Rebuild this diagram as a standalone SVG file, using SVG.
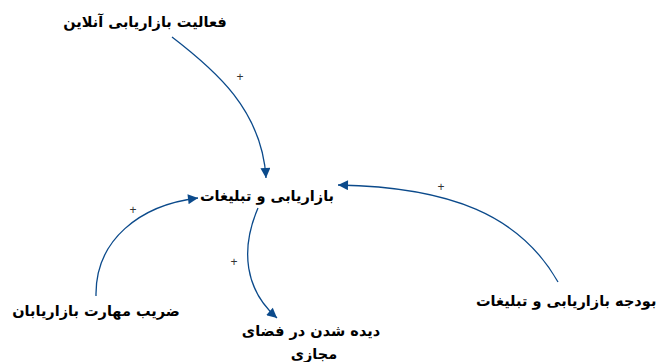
<svg xmlns="http://www.w3.org/2000/svg" width="660" height="362" viewBox="0 0 660 362">
<style>
.lbl{font-family:"DejaVu Sans","Noto Sans",sans-serif;font-weight:bold;font-size:14.5px;fill:#000}
.pl{font-family:"Liberation Sans",sans-serif;font-size:12px;fill:#333}
.cn{fill:none;stroke:#0b4a8b;stroke-width:1.3}
</style>
<defs>
<marker id="ah" viewBox="0 0 10 10" refX="10" refY="5" markerWidth="12" markerHeight="10" markerUnits="userSpaceOnUse" orient="auto">
<path d="M0,0 L10,5 L0,10 z" fill="#0b4a8b"/>
</marker>
</defs>
<rect width="660" height="362" fill="#fff"/>
<g id="connectors">
<path class="cn" d="M172,37 C215,70 262,110 266,178" marker-end="url(#ah)"/>
<path class="cn" d="M558,282 C520,215 450,187 338,185" marker-end="url(#ah)"/>
<path class="cn" d="M96,296 C95,240 140,205 198,198" marker-end="url(#ah)"/>
<path class="cn" d="M258,208 C240,250 245,290 277,318" marker-end="url(#ah)"/>
<text class="pl" x="240" y="81" text-anchor="middle">+</text>
<text class="pl" x="441" y="191" text-anchor="middle">+</text>
<text class="pl" x="133" y="214" text-anchor="middle">+</text>
<text class="pl" x="234" y="266" text-anchor="middle">+</text>
</g>
<g id="n1"><text class="lbl" x="145" y="27" text-anchor="middle">فعالیت بازاریابی آنلاین</text></g>
<g id="n2"><text class="lbl" x="267" y="201" text-anchor="middle">بازاریابی و تبلیغات</text></g>
<g id="n3"><text class="lbl" x="96" y="316" text-anchor="middle">ضریب مهارت بازاریابان</text></g>
<g id="n4"><text class="lbl" x="311" y="336" text-anchor="middle">دیده شدن در فضای</text><text class="lbl" x="314" y="359" text-anchor="middle">مجازی</text></g>
<g id="n5"><text class="lbl" x="476" y="306" text-anchor="start">بودجه بازاریابی و تبلیغات</text></g>
</svg>
